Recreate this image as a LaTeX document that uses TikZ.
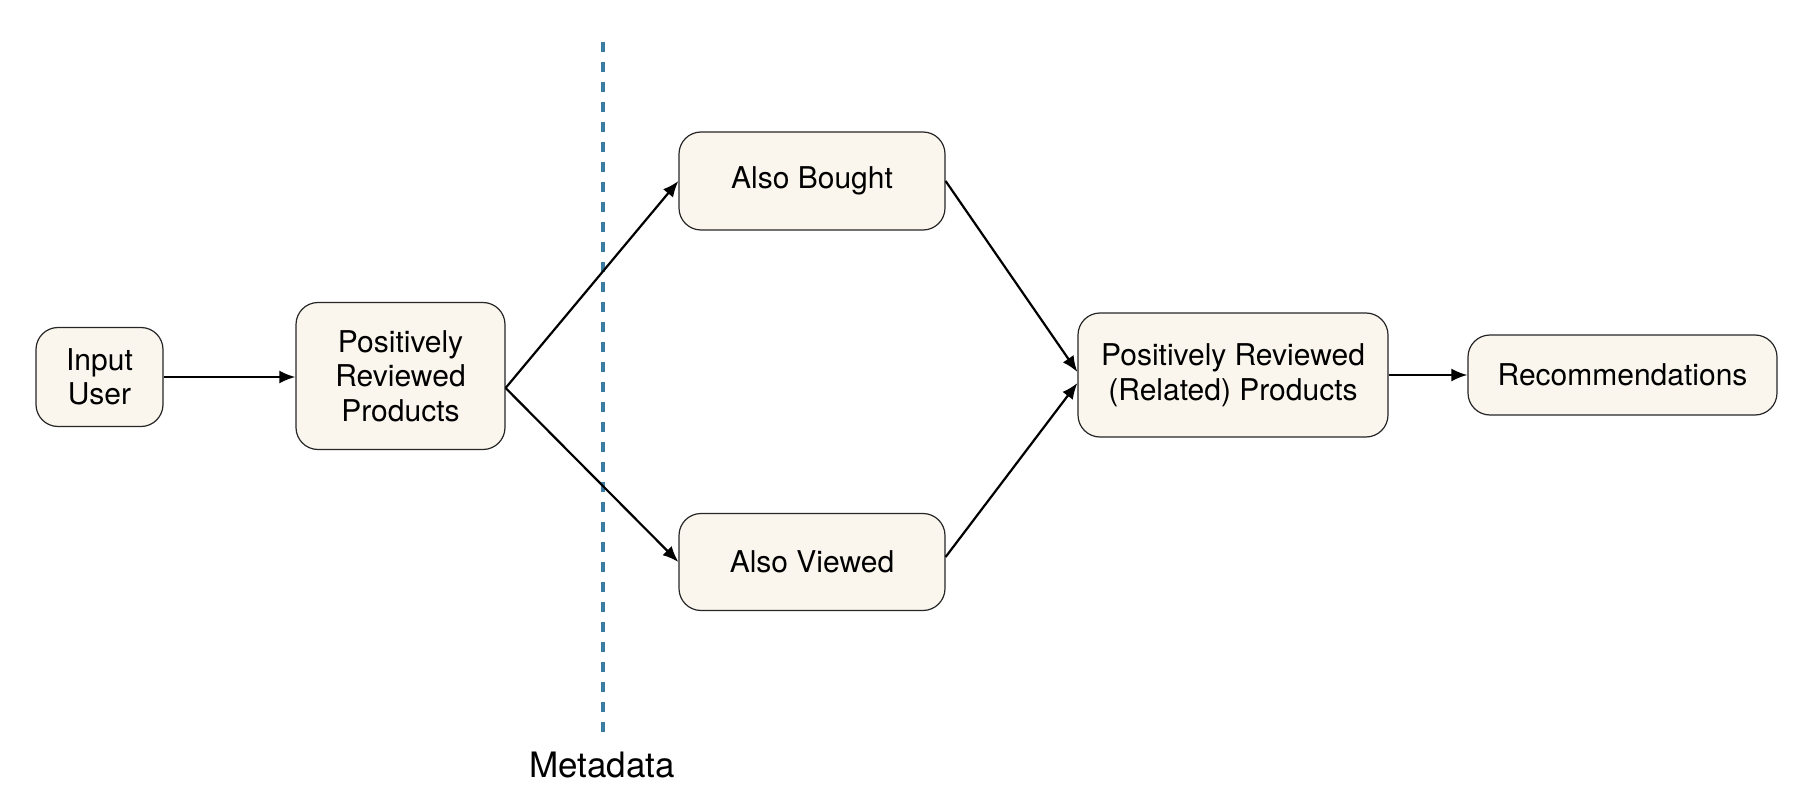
\documentclass[tikz,border=0pt]{standalone}
\usepackage{fontspec}
\setmainfont{TeX Gyre Heros}
\usetikzlibrary{arrows.meta}

\definecolor{boxfill}{RGB}{250,246,238}
\definecolor{metablue}{RGB}{58,124,162}

\tikzset{
  stage/.style={draw=black!85, line width=0.6pt, fill=boxfill, rounded corners=11pt,
    align=center, inner sep=0pt, font=\fontsize{15}{17.3}\selectfont},
  flow/.style={line width=1.1pt, -{Latex[length=8pt,width=6.5pt]}},
}

\begin{document}
\begin{tikzpicture}[x=0.5pt, y=-0.5pt]

\useasboundingbox (0,0) rectangle (1812,808);

\node[stage, minimum width=63.5pt, minimum height=49.5pt] (user) at (99.5,377) {Input\\User};
\node[stage, minimum width=104.5pt, minimum height=73.5pt] (pos) at (400.5,376) {Positively\\Reviewed\\Products};
\node[stage, minimum width=133pt, minimum height=49pt] (bought) at (812,181) {Also Bought};
\node[stage, minimum width=133pt, minimum height=48.5pt] (viewed) at (812,562) {Also Viewed};
\node[stage, minimum width=155pt, minimum height=62pt] (related) at (1233,375) {Positively Reviewed\\(Related) Products};
\node[stage, minimum width=154.5pt, minimum height=40pt] (recs) at (1622.5,375) {Recommendations};

% metadata boundary
\coordinate (metatop) at (603,42);
\coordinate (metabot) at (603,732);
\draw[metablue, line width=2.2pt, dash pattern=on 5pt off 5pt] (metatop) -- (metabot);
\node[font=\fontsize{17.5}{20}\selectfont] (meta) at (602,765) {Metadata};

\draw[flow] (user.east) -- (user.east -| pos.west);
\foreach \t in {bought,viewed}
  \draw[flow] ([yshift=-6pt]pos.east) -- (\t.west);
\draw[flow] (bought.east) -- ([yshift=1.5pt]related.west);
\draw[flow] ([yshift=2.5pt]viewed.east) -- ([yshift=-4pt]related.west);
\draw[flow] (related.east) -- (related.east -| recs.west);

\end{tikzpicture}
\end{document}
